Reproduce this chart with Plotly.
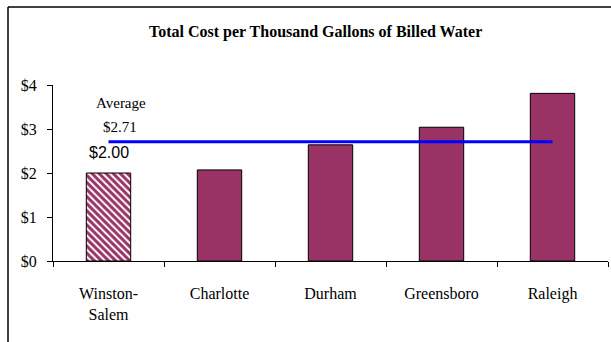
import plotly.graph_objects as go

categories = ["Winston-<br>Salem", "Charlotte", "Durham", "Greensboro", "Raleigh"]
values = [2.00, 2.07, 2.64, 3.04, 3.81]
average = 2.71
y_ticks = [0, 1, 2, 3, 4]
y_tick_labels = ["$0", "$1", "$2", "$3", "$4"]

PLUM = "#993366"
SERIF = "Liberation Serif"
SANS = "Liberation Sans"

W, H = 611, 342
L, R, T, B = 53, 3, 85, 81
pw, ph = W - L - R, H - T - B


def px_to_paper(px, py):
    return (px - L) / pw, (H - B - py) / ph


fig = go.Figure()

# Winston-Salem hatched bar
fig.add_trace(go.Bar(
    x=categories[:1], y=values[:1], width=0.4,
    marker=dict(color="white", line=dict(color="black", width=1),
                pattern=dict(shape="\\", fgcolor=PLUM, bgcolor="white", size=5,
                             solidity=0.6, fgopacity=1)),
    showlegend=False, hoverinfo="skip",
))
# Other bars
fig.add_trace(go.Bar(
    x=categories[1:], y=values[1:], width=0.4,
    marker=dict(color=PLUM, line=dict(color="black", width=1)),
    showlegend=False, hoverinfo="skip",
))
# Average line
fig.add_trace(go.Scatter(
    x=[categories[0], categories[-1]], y=[average, average], mode="lines",
    line=dict(color="#0000FF", width=3), showlegend=False, hoverinfo="skip",
))


def label(text, cx, cy, family, size, bold=False):
    x, y = px_to_paper(cx, cy)
    fig.add_annotation(x=x, y=y, xref="paper", yref="paper",
                       text=("<b>%s</b>" % text) if bold else text,
                       showarrow=False, xanchor="center", yanchor="middle",
                       font=dict(family=family, size=size, color="black"))


label("Average", 121, 103, SERIF, 15)
label("$%.2f" % average, 120, 126.5, SERIF, 15)
label("$%.2f" % values[0], 108.5, 152, SANS, 16)
label("Total Cost per Thousand Gallons of Billed Water", 315, 32, SERIF, 16, bold=True)

# outer border (left and top visible)
x0, y0 = px_to_paper(8, 7)
x1, y1 = px_to_paper(615, 350)
fig.add_shape(type="line", xref="paper", yref="paper", x0=x0, y0=y0, x1=x0, y1=y1,
              line=dict(color="black", width=1.5))
fig.add_shape(type="line", xref="paper", yref="paper", x0=x0, y0=y0, x1=x1, y1=y0,
              line=dict(color="black", width=1.5))

fig.update_layout(
    width=W, height=H,
    margin=dict(l=L, r=R, t=T, b=B),
    paper_bgcolor="white", plot_bgcolor="white",
    font=dict(family=SERIF, color="black"),
)
fig.update_xaxes(
    type="category", tickson="boundaries", ticks="outside", ticklen=5, tickcolor="black",
    showline=True, linecolor="black", linewidth=1, showgrid=False,
    tickfont=dict(family=SERIF, size=16, color="black"), ticklabelstandoff=18,
    range=[-0.5, 4.5],
)
fig.update_yaxes(
    range=[0, 4], tickvals=y_ticks, ticktext=y_tick_labels, ticks="outside", ticklen=5,
    tickcolor="black", showline=True, linecolor="black", linewidth=1, showgrid=False,
    zeroline=False, tickfont=dict(family=SERIF, size=16, color="black"), ticklabelstandoff=7,
)

fig.write_html("out.html")
